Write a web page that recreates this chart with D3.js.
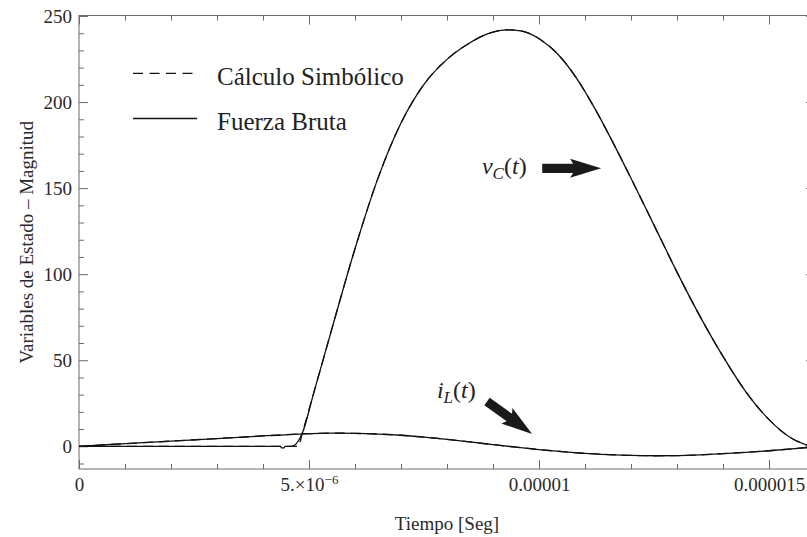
<!DOCTYPE html>
<html>
<head>
<meta charset="utf-8">
<script src="https://cdn.jsdelivr.net/npm/d3@7"></script>
<style>
  html, body { margin: 0; padding: 0; background: #fff; }
  svg { display: block; font-family: "Liberation Serif", "Times New Roman", serif; }
</style>
</head>
<body>
<svg id="chart" width="807" height="537"></svg>
<script>
// ---- data (time in seconds, values in magnitude units) ----
const seriesNames = ["Cálculo Simbólico", "Fuerza Bruta"];

// v_C(t) — symbolic solution (dashed)
const tVcSym = [0, 4.77e-6, 4.85e-6, 5.1e-6, 5.5e-6, 6.0e-6, 6.5e-6, 7.0e-6, 7.5e-6, 8.0e-6, 8.5e-6, 8.8e-6, 9.0e-6, 9.3e-6, 9.6e-6, 9.8e-6, 10.02e-6, 10.4e-6, 10.8e-6, 11.2e-6, 11.6e-6, 12.0e-6, 12.5e-6, 13.0e-6, 13.5e-6, 14.0e-6, 14.5e-6, 15.0e-6, 15.5e-6, 15.83e-6];
const vcSym  = [0, 0, 7.3, 30.7, 68.5, 114.8, 155.8, 187.8, 210.3, 224.8, 234.5, 238.8, 240.6, 242, 241.4, 239.8, 236.5, 228.1, 214.5, 196.9, 176.9, 155.7, 128.5, 101.2, 75.5, 52.2, 31.5, 15.5, 4.5, 0.6];

// v_C(t) — brute force solution (solid)
const tVcBrute = [0, 4.38e-6, 4.40e-6, 4.46e-6, 4.48e-6, 4.62e-6, 4.85e-6, 5.1e-6, 5.5e-6, 6.0e-6, 6.5e-6, 7.0e-6, 7.5e-6, 8.0e-6, 8.5e-6, 8.8e-6, 9.0e-6, 9.3e-6, 9.6e-6, 9.8e-6, 10.02e-6, 10.4e-6, 10.8e-6, 11.2e-6, 11.6e-6, 12.0e-6, 12.5e-6, 13.0e-6, 13.5e-6, 14.0e-6, 14.5e-6, 15.0e-6, 15.5e-6, 15.83e-6];
const vcBrute  = [0, 0, -0.9, -0.9, 0, 0, 7.3, 30.7, 68.5, 114.8, 155.8, 187.8, 210.3, 224.8, 234.5, 238.8, 240.6, 242, 241.4, 239.8, 236.5, 228.1, 214.5, 196.9, 176.9, 155.7, 128.5, 101.2, 75.5, 52.2, 31.5, 15.5, 4.5, 0.6];

// i_L(t) — both methods agree
const tIl = [0, 1e-6, 2e-6, 3e-6, 4e-6, 4.8e-6, 5.5e-6, 6.0e-6, 6.5e-6, 7.0e-6, 7.5e-6, 8.0e-6, 8.5e-6, 9.0e-6, 9.5e-6, 10.0e-6, 10.5e-6, 11.0e-6, 11.5e-6, 12.0e-6, 12.5e-6, 13.0e-6, 13.5e-6, 14.0e-6, 14.5e-6, 15.0e-6, 15.5e-6, 15.83e-6];
const ilSym   = [0, 1.5, 3.0, 4.5, 6.0, 7.1, 7.6, 7.5, 7.1, 6.4, 5.3, 4.0, 2.5, 1.0, -0.5, -1.9, -3.1, -4.1, -4.8, -5.3, -5.5, -5.4, -5.0, -4.3, -3.5, -2.6, -1.5, -0.7];
const ilBrute = ilSym.slice();

// ticks
const xTickValues = [0, 5e-6, 1e-5, 1.5e-5];
const xTickLabels = ["0", "5.×10|−6", "0.00001", "0.000015"];
const xMinorValues = d3.range(0, 17).map(i => i * 1e-6).filter(v => !xTickValues.some(m => Math.abs(m - v) < 1e-9));
const yTickValues = [0, 50, 100, 150, 200, 250];
const yMinorValues = d3.range(-10, 250, 10).filter(v => v % 50 !== 0);

// ---- layout ----
const svg = d3.select("#chart");
const pLeft = 79, pRight = 815, pTop = 15.5, pBottom = 469;
const x = d3.scaleLinear().domain([0, 1.6e-5]).range([pLeft, pRight]);
const y = d3.scaleLinear().domain([-13.2, 250.3]).range([pBottom, pTop]);

const frameColor = "#6b6b6b";
const textColor = "#2a2a2a";

svg.append("defs").append("clipPath").attr("id", "clip")
  .append("rect").attr("x", pLeft).attr("y", pTop).attr("width", pRight - pLeft).attr("height", pBottom - pTop);

svg.append("rect").attr("x", pLeft).attr("y", pTop).attr("width", pRight - pLeft).attr("height", pBottom - pTop)
  .attr("fill", "none").attr("stroke", frameColor).attr("stroke-width", 1);

function styleAxis(g) {
  g.select(".domain").remove();
  g.selectAll(".tick line").attr("stroke", frameColor).attr("stroke-width", 1);
  g.selectAll(".tick text").attr("fill", textColor).attr("font-family", "Liberation Serif, Times New Roman, serif");
}

const gLeft = svg.append("g").attr("transform", `translate(${pLeft},0)`)
  .call(d3.axisLeft(y).tickValues(yTickValues).tickSizeInner(-9).tickSizeOuter(0).tickPadding(7).tickFormat(d3.format("d")))
  .call(styleAxis);
gLeft.selectAll(".tick text").attr("font-size", 19);
svg.append("g").attr("transform", `translate(${pLeft},0)`)
  .call(d3.axisLeft(y).tickValues(yMinorValues).tickSizeInner(-5).tickSizeOuter(0).tickFormat(""))
  .call(styleAxis);
svg.append("g").attr("transform", `translate(${pRight},0)`)
  .call(d3.axisRight(y).tickValues(yTickValues).tickSizeInner(-9).tickSizeOuter(0).tickFormat(""))
  .call(styleAxis);
svg.append("g").attr("transform", `translate(${pRight},0)`)
  .call(d3.axisRight(y).tickValues(yMinorValues).tickSizeInner(-5).tickSizeOuter(0).tickFormat(""))
  .call(styleAxis);

const gBottom = svg.append("g").attr("transform", `translate(0,${pBottom})`)
  .call(d3.axisBottom(x).tickValues(xTickValues).tickSizeInner(-9).tickSizeOuter(0).tickPadding(9).tickFormat(() => ""))
  .call(styleAxis);
gBottom.selectAll(".tick text").each(function(d, i) {
  const t = d3.select(this).attr("font-size", 19).attr("dy", "0.71em");
  const parts = xTickLabels[i].split("|");
  t.text(null);
  t.append("tspan").text(parts[0]);
  if (parts.length > 1) {
    t.append("tspan").attr("font-size", 13).attr("dy", "-0.55em").text(parts[1]);
  }
});
svg.append("g").attr("transform", `translate(0,${pBottom})`)
  .call(d3.axisBottom(x).tickValues(xMinorValues).tickSizeInner(-5).tickSizeOuter(0).tickFormat(""))
  .call(styleAxis);
svg.append("g").attr("transform", `translate(0,${pTop})`)
  .call(d3.axisTop(x).tickValues(xTickValues).tickSizeInner(-9).tickSizeOuter(0).tickFormat(""))
  .call(styleAxis);
svg.append("g").attr("transform", `translate(0,${pTop})`)
  .call(d3.axisTop(x).tickValues(xMinorValues).tickSizeInner(-5).tickSizeOuter(0).tickFormat(""))
  .call(styleAxis);

svg.append("text").attr("x", (pLeft + 807) / 2 + 4).attr("y", 530)
  .attr("text-anchor", "middle").attr("font-size", 19).attr("fill", textColor)
  .text("Tiempo [Seg]");
svg.append("text").attr("transform", `translate(33,${(pTop + pBottom) / 2}) rotate(-90)`)
  .attr("text-anchor", "middle").attr("font-size", 19).attr("fill", textColor)
  .text("Variables de Estado – Magnitud");

// ---- curves ----
const line = d3.line().x(d => x(d[0])).y(d => y(d[1])).curve(d3.curveMonotoneX);
const plot = svg.append("g").attr("clip-path", "url(#clip)");
const zip = (ts, vs) => ts.map((t, i) => [t, vs[i]]);

[[tVcBrute, vcBrute], [tIl, ilBrute]].forEach(([ts, vs]) => {
  plot.append("path").datum(zip(ts, vs)).attr("d", line)
    .attr("fill", "none").attr("stroke", "#111").attr("stroke-width", 1.3);
});
[[tVcSym, vcSym], [tIl, ilSym]].forEach(([ts, vs]) => {
  plot.append("path").datum(zip(ts, vs)).attr("d", line)
    .attr("fill", "none").attr("stroke", "#111").attr("stroke-width", 1.3)
    .attr("stroke-dasharray", "10,6");
});

// ---- legend ----
const legendItems = [
  { name: seriesNames[0], dash: "10,6.5", ly: 73.3, ty: 85 },
  { name: seriesNames[1], dash: null, ly: 118.5, ty: 129.5 }
];
legendItems.forEach(it => {
  const l = svg.append("line").attr("x1", 133).attr("x2", 197).attr("y1", it.ly).attr("y2", it.ly)
    .attr("stroke", "#111").attr("stroke-width", 1.3);
  if (it.dash) l.attr("stroke-dasharray", it.dash);
  svg.append("text").attr("x", 217).attr("y", it.ty).attr("font-size", 25).attr("fill", "#222").text(it.name);
});

// ---- annotations (anchored in data coordinates) ----
function arrow(t0, v0, t1, v1) {
  const x0 = x(t0), y0 = y(v0), x1 = x(t1), y1 = y(v1);
  const ang = Math.atan2(y1 - y0, x1 - x0) * 180 / Math.PI;
  const L = Math.hypot(x1 - x0, y1 - y0);
  const hl = 31, hw = 9.5, sw = 4.6, notch = 3;
  const pts = [[0, -sw], [L - hl + notch, -sw], [L - hl, -hw], [L, 0], [L - hl, hw], [L - hl + notch, sw], [0, sw]];
  svg.append("path").attr("d", "M" + pts.map(p => p.join(",")).join("L") + "Z")
    .attr("fill", "#1a1a1a")
    .attr("transform", `translate(${x0},${y0}) rotate(${ang})`);
}
function label(t, v, main, sub) {
  const tx = svg.append("text").attr("x", x(t)).attr("y", y(v)).attr("font-size", 24).attr("fill", "#222");
  tx.append("tspan").attr("font-style", "italic").text(main);
  tx.append("tspan").attr("font-style", "italic").attr("font-size", 17).attr("dy", 5).text(sub);
  tx.append("tspan").attr("dy", -5).text("(");
  tx.append("tspan").attr("font-style", "italic").text("t");
  tx.append("tspan").text(")");
}
label(8.76e-6, 158, "v", "C");
arrow(10.07e-6, 161.5, 11.35e-6, 161.5);
label(7.78e-6, 28, "i", "L");
arrow(8.87e-6, 26, 9.85e-6, 7.2);
</script>
</body>
</html>
